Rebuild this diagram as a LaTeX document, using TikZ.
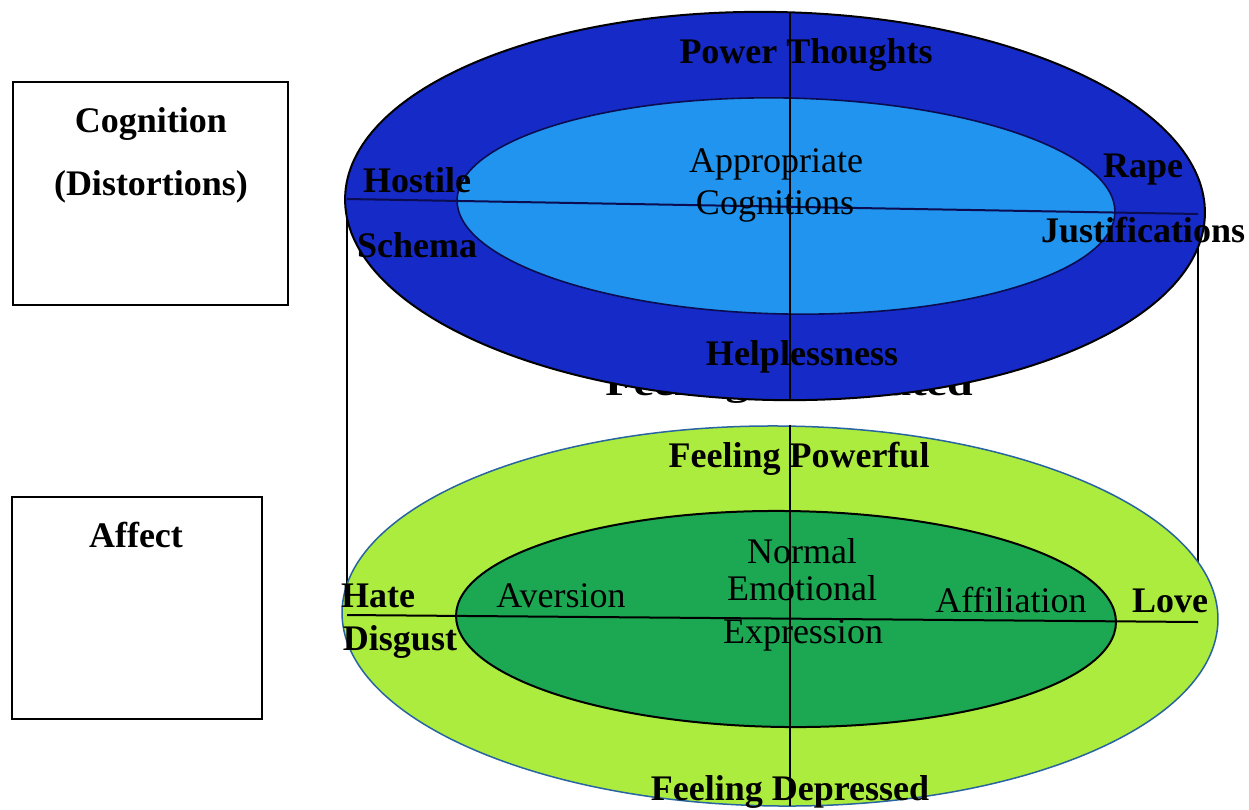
\documentclass[tikz,border=0pt]{standalone}
\usepackage{fontspec}
\setmainfont{Liberation Serif}
\definecolor{outerblue}{RGB}{22,42,200}
\definecolor{innerblue}{RGB}{32,148,238}
\definecolor{outergreen}{RGB}{172,236,62}
\definecolor{innergreen}{RGB}{28,168,82}
\definecolor{rimblue}{RGB}{40,100,160}
\definecolor{navy}{RGB}{12,12,80}
\begin{document}
\begin{tikzpicture}[x=1pt,y=-1pt,
  boldlbl/.style={anchor=base,inner sep=0pt,font=\fontsize{36}{40}\selectfont\bfseries},
  plainlbl/.style={anchor=base,inner sep=0pt,font=\fontsize{36}{40}\selectfont},
  axisline/.style={line width=2pt},
  sideline/.style={line width=1.4pt},
  framebox/.style={draw,line width=2pt,inner sep=0pt}]
\useasboundingbox (0,0) rectangle (1249,809);

% label boxes on the left
\node[framebox,minimum width=275pt,minimum height=223pt] (cogbox) at (150.5,193.5) {};
\node[boldlbl] (cog) at (151,132) {Cognition};
\node[boldlbl] (dist) at (151,195) {(Distortions)};
\node[framebox,minimum width=250pt,minimum height=222pt] (affbox) at (137,608) {};
\node[boldlbl] (aff) at (136,547) {Affect};

% ends of the two horizontal axes
\coordinate (tl) at (347,199);
\coordinate (tr) at (1198,214);
\coordinate (bl) at (347,615);
\coordinate (br) at (1198,622);

% cylinder sides joining the two discs
\draw[sideline] (tl) -- (bl);
\draw[sideline] (tr) -- (br);

% label lying underneath the cognition disc
\node[boldlbl,xscale=1.28] (frus) at (789,395) {Feeling Frustrated};

% cognition disc
\filldraw[fill=outerblue,draw=black,line width=2pt,rotate around={-1.1:(775,206)}]
  (775,206) ellipse [x radius=430, y radius=194];
\filldraw[fill=innerblue,draw=navy,line width=1.6pt,rotate around={-1.1:(786,206)}]
  (786,206) ellipse [x radius=329, y radius=108];
\draw[axisline] (790,13) -- (790,400);
\draw[axisline,navy] (tl) -- (tr);

% affect disc
\filldraw[fill=outergreen,draw=rimblue,line width=1.5pt,rotate around={-0.5:(780,616)}]
  (780,616) ellipse [x radius=438, y radius=190];
\filldraw[fill=innergreen,draw=black,line width=2pt,rotate around={-0.6:(786,619)}]
  (786,619) ellipse [x radius=330, y radius=108];
\draw[axisline] (790,425) -- (790,806);
\draw[axisline] (bl) -- (br);

% cognition labels
\node[boldlbl] (power) at (806,63) {Power Thoughts};
\node[plainlbl] (appr) at (776,172) {Appropriate};
\node[plainlbl] (cogs) at (775,214) {Cognitions};
\node[boldlbl] (host) at (417,192) {Hostile};
\node[boldlbl] (schema) at (417,257) {Schema};
\node[boldlbl] (rape) at (1143,177) {Rape};
\node[boldlbl] (just) at (1143,242) {Justifications};
\node[boldlbl] (help) at (802,365) {Helplessness};

% affect labels
\node[boldlbl] (fpow) at (799,467) {Feeling Powerful};
\node[plainlbl] (norm) at (802,563) {Normal};
\node[plainlbl] (emo) at (802,600) {Emotional};
\node[plainlbl] (expr) at (803,643) {Expression};
\node[plainlbl] (avers) at (561,607) {Aversion};
\node[plainlbl] (affil) at (1011,612) {Affiliation};
\node[boldlbl] (hate) at (378,607) {Hate};
\node[boldlbl] (disg) at (400,650) {Disgust};
\node[boldlbl] (love) at (1170,612) {Love};
\node[boldlbl] (fdep) at (790,800) {Feeling Depressed};
\end{tikzpicture}
\end{document}
